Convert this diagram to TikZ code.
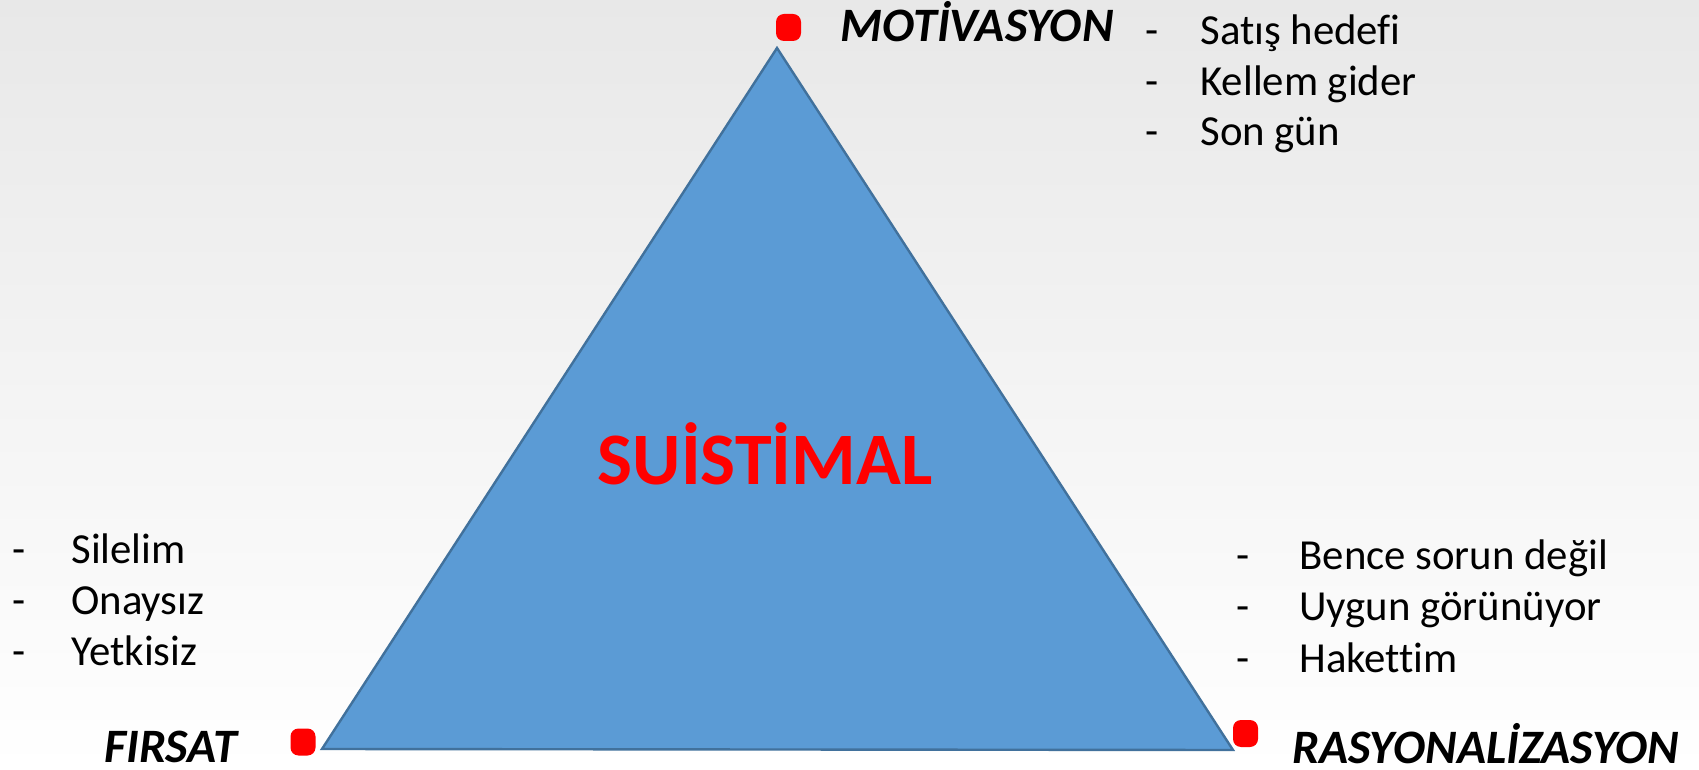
\documentclass[tikz,border=0pt]{standalone}
\usepackage{fontspec}
\setmainfont{Carlito}[Ligatures=NoCommon]
\usetikzlibrary{positioning,calc}
\definecolor{triblue}{HTML}{5B9BD5}
\definecolor{triedge}{HTML}{41719C}
\definecolor{bggray}{HTML}{E8E8E8}
\tikzstyle{triangle}=[fill=triblue,draw=triedge,line width=1.2pt,line join=miter]
\tikzstyle{reddot}=[fill=red,rounded corners=4pt,minimum width=12.5pt,minimum height=13.5pt,inner sep=0pt]
\tikzstyle{heading}=[anchor=base west,inner sep=0pt,font=\fontsize{24}{28}\selectfont\bfseries\itshape]
\tikzstyle{entry}=[anchor=base west,inner sep=0pt,font=\fontsize{21.4}{25}\selectfont]
\tikzstyle{bullet}=[entry]
\tikzstyle{title}=[anchor=base,inner sep=0pt,text=red,font=\fontsize{37}{44}\selectfont\bfseries]

\begin{document}
\begin{tikzpicture}[x=0.5pt,y=-0.5pt]
\useasboundingbox (0,0) rectangle (1699,770);
\shade[top color=bggray,bottom color=white] (0,0) rectangle (1699,770);
\coordinate (tip) at (777,48);
\coordinate (baseL) at (322,749);
\coordinate (baseR) at (1233,750);
\draw[triangle] (tip) -- (baseL) -- (baseR) -- cycle;
\node [title] (fraud) at (765,484) {SUİSTİMAL};
% corners
\node [reddot] (motivdot) at (788.5,27.5) {};
\node [reddot] (firsatdot) at (303,742) {};
\node [reddot] (rasyondot) at (1245.5,733.5) {};
\node [heading] (motiv) at (840,42) {MOTİVASYON};
\node [heading] (firsat) at (104,762) {FIRSAT};
\node [heading] (rasyon) at (1292,763) {RASYONALİZASYON};
% motivasyon
\node [bullet] (m1d) at (1145,45) {-};
\node [entry] (m1) at (1200,45) {Satış hedefi};
\node [bullet] (m2d) at (1145,95.5) {-};
\node [entry] (m2) at (1200,95.5) {Kellem gider};
\node [bullet] (m3d) at (1145,146) {-};
\node [entry] (m3) at (1200,146) {Son gün};
% firsat
\node [bullet] (f1d) at (12,563) {-};
\node [entry] (f1) at (71,563) {Silelim};
\node [bullet] (f2d) at (12,614) {-};
\node [entry] (f2) at (71,614) {Onaysız};
\node [bullet] (f3d) at (12,665) {-};
\node [entry] (f3) at (71,665) {Yetkisiz};
% rasyonalizasyon
\node [bullet] (r1d) at (1236,569) {-};
\node [entry] (r1) at (1299,569) {Bence sorun değil};
\node [bullet] (r2d) at (1236,620) {-};
\node [entry] (r2) at (1299,620) {Uygun görünüyor};
\node [bullet] (r3d) at (1236,672) {-};
\node [entry] (r3) at (1299,672) {Hakettim};
\end{tikzpicture}
\end{document}
